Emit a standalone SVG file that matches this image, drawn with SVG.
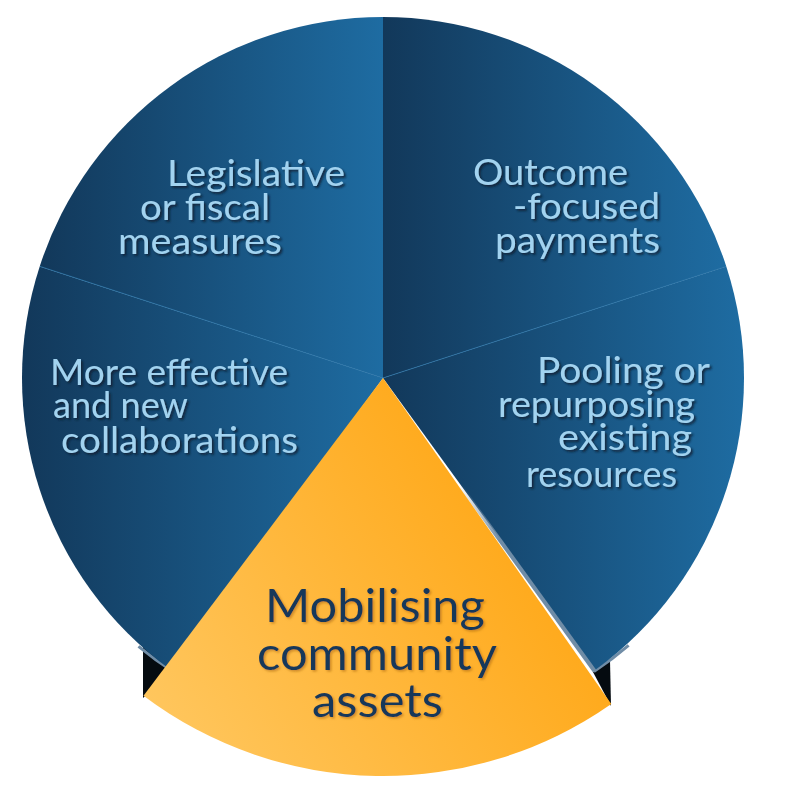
<svg xmlns="http://www.w3.org/2000/svg" width="800" height="800" viewBox="0 0 800 800">
  <defs>
    <linearGradient id="gBlue" x1="0" y1="0" x2="1" y2="0">
      <stop offset="0" stop-color="#12385a"/>
      <stop offset="1" stop-color="#1e6ca2"/>
    </linearGradient>
    <linearGradient id="gOrange" gradientUnits="userSpaceOnUse" x1="150" y1="760" x2="600" y2="470">
      <stop offset="0" stop-color="#ffc862"/>
      <stop offset="1" stop-color="#ffa20a"/>
    </linearGradient>
    <linearGradient id="gEdge" gradientUnits="userSpaceOnUse" x1="460" y1="485" x2="594" y2="671">
      <stop offset="0" stop-color="#6f8ca6" stop-opacity="0"/>
      <stop offset="0.3" stop-color="#6f8ca6" stop-opacity="1"/>
      <stop offset="1" stop-color="#6f8ca6" stop-opacity="1"/>
    </linearGradient>
    <filter id="shLight" x="-10%" y="-20%" width="130%" height="150%">
      <feDropShadow dx="2" dy="2" stdDeviation="1" flood-color="#081e33" flood-opacity="0.85"/>
    </filter>
    <filter id="shDark" x="-10%" y="-20%" width="130%" height="150%">
      <feDropShadow dx="1.5" dy="1.5" stdDeviation="1" flood-color="#a0600a" flood-opacity="0.55"/>
    </filter>
  </defs>
  <style>
    .slice { fill: url(#gBlue); }
    .lbl { font-family: "Lato", "Liberation Sans", sans-serif; font-size: 36px; fill: #a2d3f0; filter: url(#shLight); }
    .lblMain { font-family: "Lato", "Liberation Sans", sans-serif; font-size: 47px; fill: #16395a; filter: url(#shDark); }
    .edge { fill: none; stroke: #6f8ca6; stroke-width: 3; }
    .div { stroke: #2a74a8; stroke-width: 1; opacity: 0.8; }
  </style>

  <g id="depth">
    <polygon points="143,646 172,671 143,698" fill="#050b10"/>
    <polygon points="610,660 593,672 611,706" fill="#050b10"/>
    <path class="edge" d="M 172.6,671.2 A 362.5,362.5 0 0,1 138.5,646.3"/>
    <path class="edge" d="M 628.6,645.3 A 362.5,362.5 0 0,1 593.9,671.6"/>
  </g>

  <g id="slice-legislative">
    <path class="slice" d="M383,378 L39.7,266.4 A361,361 0 0,1 383,17 Z"/>
    <text class="lbl" x="167" y="186" textLength="178" lengthAdjust="spacingAndGlyphs">Legislative</text>
    <text class="lbl" x="140" y="220" textLength="130" lengthAdjust="spacingAndGlyphs">or fiscal</text>
    <text class="lbl" x="118" y="254" textLength="164" lengthAdjust="spacingAndGlyphs">measures</text>
  </g>

  <g id="slice-outcome">
    <path class="slice" d="M383,378 L383,17 A361,361 0 0,1 726.3,266.4 Z"/>
    <text class="lbl" x="473" y="185" textLength="155" lengthAdjust="spacingAndGlyphs">Outcome</text>
    <text class="lbl" x="513" y="219" textLength="147" lengthAdjust="spacingAndGlyphs">-focused</text>
    <text class="lbl" x="495" y="253" textLength="165" lengthAdjust="spacingAndGlyphs">payments</text>
  </g>

  <g id="slice-pooling">
    <path class="slice" d="M383,378 L726.3,266.4 A361,361 0 0,1 595.2,670.1 Z"/>
    <text class="lbl" x="537" y="383" textLength="173" lengthAdjust="spacingAndGlyphs">Pooling or</text>
    <text class="lbl" x="498" y="417" textLength="197" lengthAdjust="spacingAndGlyphs">repurposing</text>
    <text class="lbl" x="558" y="450" textLength="134" lengthAdjust="spacingAndGlyphs">existing</text>
    <text class="lbl" x="526" y="487" textLength="151" lengthAdjust="spacingAndGlyphs">resources</text>
  </g>

  <g id="slice-collaborations">
    <path class="slice" d="M383,378 L170.8,670.1 A361,361 0 0,1 39.7,266.4 Z"/>
    <text class="lbl" x="50" y="385" textLength="238" lengthAdjust="spacingAndGlyphs">More effective</text>
    <text class="lbl" x="53" y="418" textLength="135" lengthAdjust="spacingAndGlyphs">and new</text>
    <text class="lbl" x="61" y="453" textLength="237" lengthAdjust="spacingAndGlyphs">collaborations</text>
  </g>

  <g id="dividers">
    <line class="div" x1="383" y1="378" x2="40" y2="266.4"/>
    <line class="div" x1="383" y1="378" x2="726" y2="266.4"/>
    <line x1="460" y1="485" x2="594.5" y2="671" stroke="url(#gEdge)" stroke-width="4"/>
  </g>

  <g id="slice-mobilising">
    <path fill="url(#gOrange)" d="M383,378 L611.3,704 A398,398 0 0,1 143.5,695.8 Z"/>
    <text class="lblMain" x="265" y="622" textLength="220" lengthAdjust="spacingAndGlyphs">Mobilising</text>
    <text class="lblMain" x="257" y="670" textLength="240" lengthAdjust="spacingAndGlyphs">community</text>
    <text class="lblMain" x="312" y="717" textLength="131" lengthAdjust="spacingAndGlyphs">assets</text>
  </g>
</svg>
